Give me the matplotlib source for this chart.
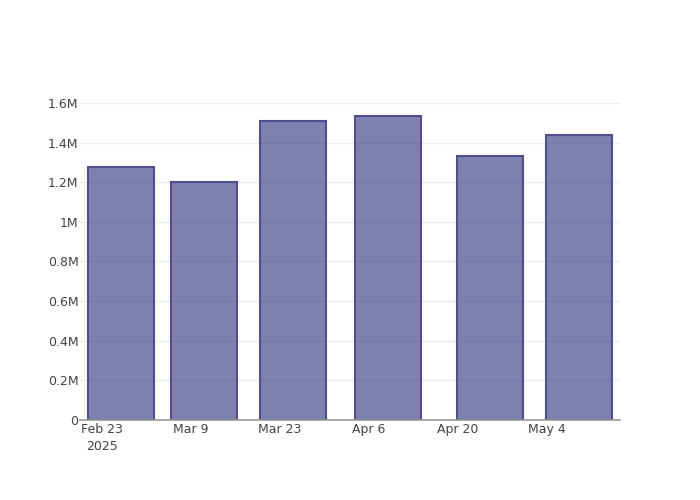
import matplotlib
matplotlib.use("Agg")
import matplotlib.pyplot as plt
from datetime import datetime, timedelta

dates = ["2025-02-26", "2025-03-11", "2025-03-25", "2025-04-09", "2025-04-25", "2025-05-09"]
values = [1.277e6, 1.201e6, 1.509e6, 1.535e6, 1.333e6, 1.439e6]
tick_dates = ["2025-02-23", "2025-03-09", "2025-03-23", "2025-04-06", "2025-04-20", "2025-05-04"]
tick_labels = ["Feb 23\n2025", "Mar 9", "Mar 23", "Apr 6", "Apr 20", "May 4"]
y_ticks = [0, 0.2e6, 0.4e6, 0.6e6, 0.8e6, 1.0e6, 1.2e6, 1.4e6, 1.6e6]
y_labels = ["0", "0.2M", "0.4M", "0.6M", "0.8M", "1M", "1.2M", "1.4M", "1.6M"]

x = [datetime.strptime(d, "%Y-%m-%d") for d in dates]
xt = [datetime.strptime(d, "%Y-%m-%d") for d in tick_dates]

fig = plt.figure(figsize=(7, 5), dpi=100)
ax = fig.add_axes([80 / 700, 80 / 500, 540 / 700, 320 / 500])

# semi-transparent fill so the grid shows through, like the original
ax.bar(x, values, width=10.4, color=(0.168, 0.168, 0.482, 0.6),
       edgecolor="#4f4f90", linewidth=1.5, zorder=3)

start = datetime(2025, 2, 23) - timedelta(days=3.46)
end = datetime(2025, 2, 23) + timedelta(days=81.5)
ax.set_xlim(start, end)
ax.set_ylim(0, 1.615e6)

ax.set_xticks(xt)
ax.set_xticklabels(tick_labels, color="#444444", fontsize=9, linespacing=1.4)
ax.set_yticks(y_ticks)
ax.set_yticklabels(y_labels, color="#444444", fontsize=9)
ax.tick_params(axis="x", length=0, pad=2)
ax.tick_params(axis="y", length=0, pad=1)

ax.grid(axis="y", color="#eeeeee", linewidth=1, zorder=0)
for s in ["top", "right", "left"]:
    ax.spines[s].set_visible(False)
ax.spines["bottom"].set_color("#999999")
ax.spines["bottom"].set_linewidth(1.2)
ax.spines["bottom"].set_zorder(4)

fig.savefig("out.png", dpi=100)
